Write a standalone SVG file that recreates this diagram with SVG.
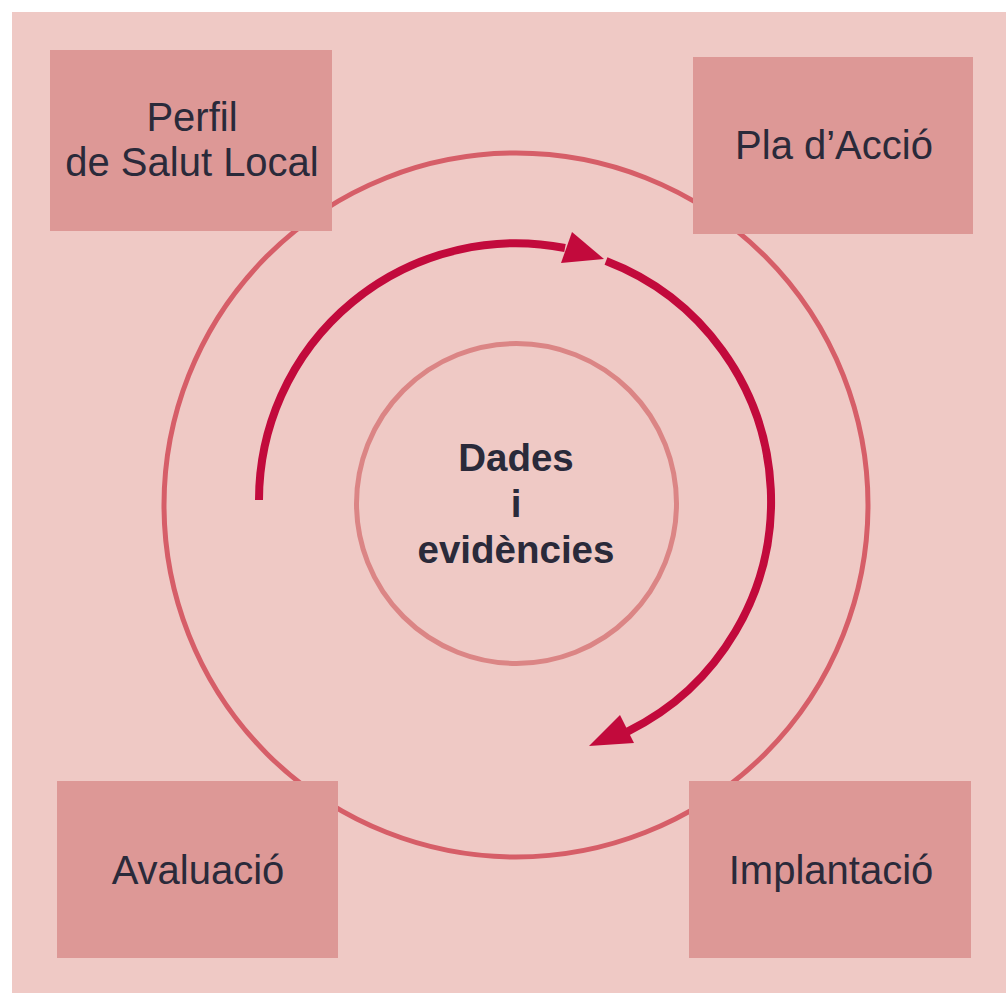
<svg xmlns="http://www.w3.org/2000/svg" width="1006" height="993" viewBox="0 0 1006 993">
  <style>
    .box { fill: #dd9896; }
    .lbl { font-family: "Liberation Sans", Arial, sans-serif; font-size: 40px; fill: #2a2a3a; text-anchor: middle; }
    .ctr { font-family: "Liberation Sans", Arial, sans-serif; font-size: 38.5px; font-weight: bold; fill: #2a2a3a; text-anchor: middle; }
    .arc { fill: none; stroke: #c20a3c; stroke-width: 8; stroke-linecap: butt; }
    .head { fill: #c20a3c; }
  </style>
  <rect x="0" y="0" width="1006" height="993" fill="#ffffff"/>
  <rect x="12" y="12" width="994" height="981" fill="#efc9c5"/>

  <g id="outer-ring">
    <circle cx="516" cy="505" r="352" fill="none" stroke="#d65e68" stroke-width="5"/>
  </g>
  <g id="centre">
    <circle cx="516.5" cy="503.5" r="160" fill="none" stroke="#db8585" stroke-width="5"/>
    <text class="ctr" x="516" y="471">Dades</text>
    <text class="ctr" x="516" y="517">i</text>
    <text class="ctr" x="516" y="563">evidències</text>
  </g>

  <g id="connectors">
    <path class="arc" d="M 259 500 A 257 257 0 0 1 565 248"/>
    <polygon class="head" points="604,259 572,232 561,263"/>
    <path class="arc" d="M 606 261 A 257 257 0 0 1 627.5 731.6"/>
    <polygon class="head" points="589,746 620,715 634,743"/>
  </g>

  <g id="perfil">
    <rect class="box" x="50" y="50" width="282" height="181"/>
    <text class="lbl" x="192" y="131">Perfil</text>
    <text class="lbl" x="192" y="176">de Salut Local</text>
  </g>
  <g id="pla">
    <rect class="box" x="693" y="57" width="280" height="177"/>
    <text class="lbl" x="834" y="159">Pla d’Acció</text>
  </g>
  <g id="avaluacio">
    <rect class="box" x="57" y="781" width="281" height="177"/>
    <text class="lbl" x="198" y="884">Avaluació</text>
  </g>
  <g id="implantacio">
    <rect class="box" x="689" y="781" width="282" height="177"/>
    <text class="lbl" x="831" y="884">Implantació</text>
  </g>
</svg>
